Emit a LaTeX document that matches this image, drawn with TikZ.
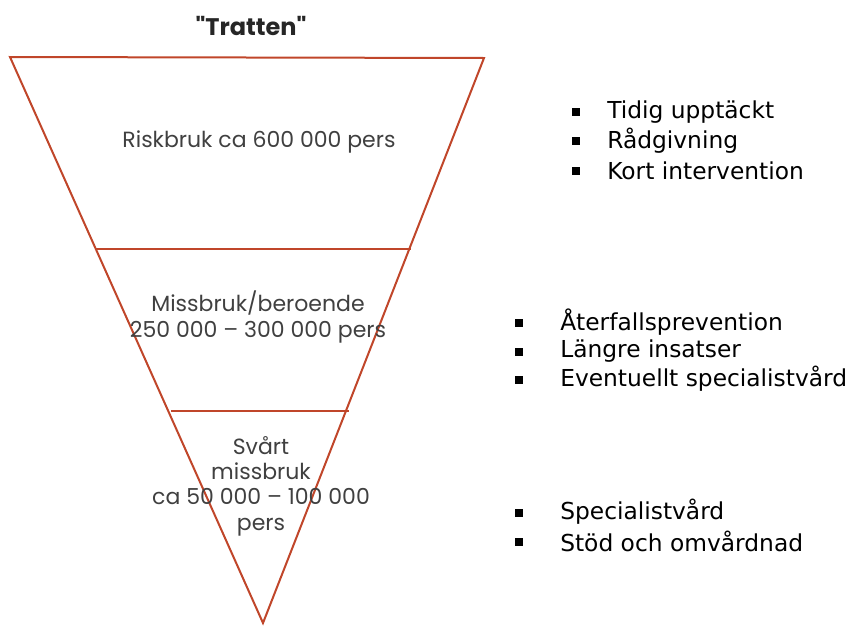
\documentclass[tikz,border=0pt]{standalone}
\usepackage{fontspec}
\setmainfont{DejaVu Sans}
\newfontfamily\funnelfont{Poppins}
\usepackage{xcolor}
\usepackage{tikz}
\definecolor{funnelred}{HTML}{C0462A}
\definecolor{funneltext}{HTML}{404040}
\tikzset{
  funnel/.style={draw=funnelred, line width=1.5pt, line join=miter},
  level/.style={font=\funnelfont\fontsize{16.5}{19}\selectfont, text=funneltext, align=center},
  item/.style={anchor=west, font=\fontsize{17.5}{20}\selectfont, inner sep=0pt},
  dot/.style={fill=black, minimum size=5.5pt, inner sep=0pt}
}
\begin{document}
\begin{tikzpicture}[x=0.75pt, y=-0.75pt]
        \useasboundingbox (0,0) rectangle (853,625);
        % Title
        \node[font=\funnelfont\bfseries\fontsize{18}{20}\selectfont, text=black!85] (title) at (251, 26) {"Tratten"};
        
        % Funnel
        \coordinate (tl) at (10, 57);
        \coordinate (tr) at (484, 58);
        \coordinate (tip) at (263, 623);
        \draw[funnel] (tl) -- (tr) -- (tip) -- cycle;
        \coordinate (a1) at (96, 249);
        \coordinate (a2) at (411, 249);
        \coordinate (b1) at (171, 411);
        \coordinate (b2) at (349, 411);
        \draw[funnel] (a1) -- (a2);
        \draw[funnel] (b1) -- (b2);
        
        % Levels
        \node[level] (risk) at (259, 142) {Riskbruk ca 600 000 pers};
        \node[level] (miss) at (258, 317) {Missbruk/beroende\\250 000 – 300 000 pers};
        \node[level] (svar) at (261, 486) {Svårt\\missbruk\\ca 50 000 – 100 000\\pers};
        
        % Measures, top
        \node[dot] (d1) at (576, 112) {};
        \node[dot] (d2) at (576, 141) {};
        \node[dot] (d3) at (576, 171) {};
        \node[item] (m1) at (607, 112) {Tidig upptäckt};
        \node[item] (m2) at (607, 141) {Rådgivning};
        \node[item] (m3) at (607, 171) {Kort intervention};
        
        % Measures, middle
        \node[dot] (d4) at (519, 323) {};
        \node[dot] (d5) at (519, 352) {};
        \node[dot] (d6) at (519, 380) {};
        \node[item] (m4) at (560, 322) {Återfallsprevention};
        \node[item] (m5) at (560, 351) {Längre insatser};
        \node[item] (m6) at (560, 379) {Eventuellt specialistvård};
        
        % Measures, bottom
        \node[dot] (d7) at (519, 513) {};
        \node[dot] (d8) at (519, 542) {};
        \node[item] (m7) at (560, 512) {Specialistvård};
        \node[item] (m8) at (560, 541) {Stöd och omvårdnad};
    \end{tikzpicture}
\end{document}
